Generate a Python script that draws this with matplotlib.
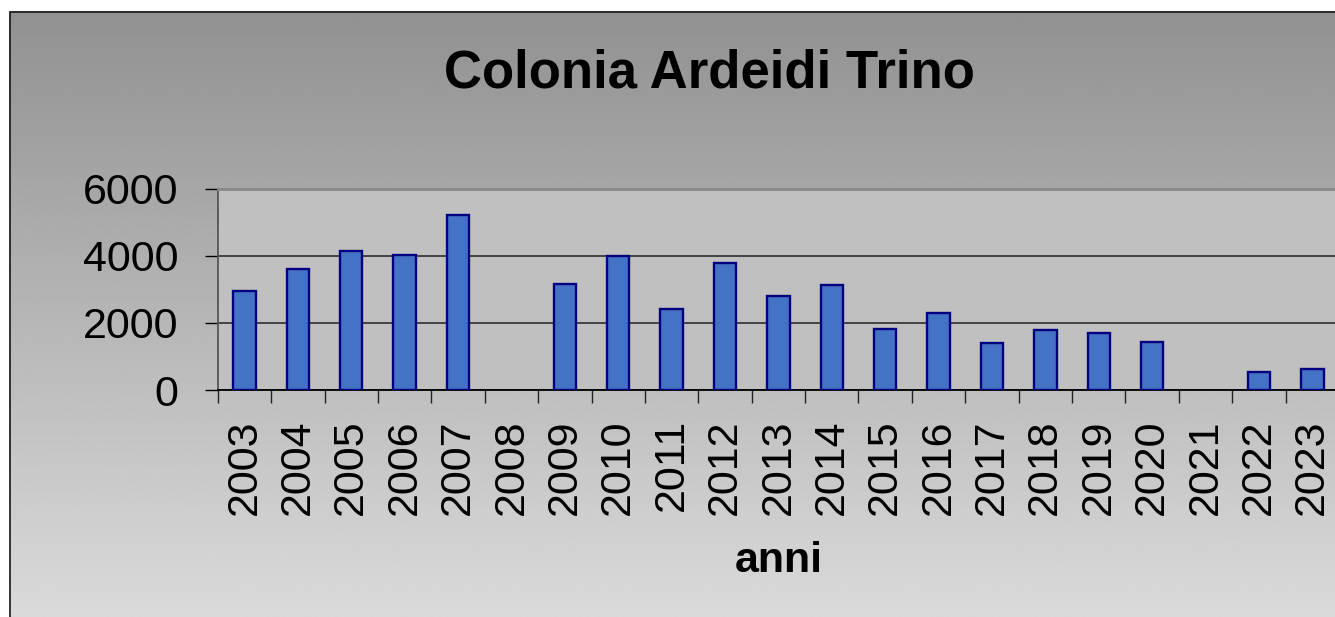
import numpy as np
import matplotlib
matplotlib.use("Agg")
import matplotlib.pyplot as plt
from matplotlib.ticker import FixedLocator

plt.rcParams['font.family'] = ['Liberation Sans', 'DejaVu Sans']

years = ["2003", "2004", "2005", "2006", "2007", "2008", "2009", "2010", "2011", "2012",
         "2013", "2014", "2015", "2016", "2017", "2018", "2019", "2020", "2021", "2022", "2023"]
values = [2950, 3610, 4130, 4030, 5200, 0, 3160, 3990, 2400, 3780,
          2810, 3135, 1805, 2290, 1410, 1775, 1705, 1430, 0, 525, 635]
y_ticks = [0, 2000, 4000, 6000]
title = "Colonia Ardeidi Trino"
xlabel = "anni"

W, H = 1335, 617
fig = plt.figure(figsize=(W / 100, H / 100), dpi=100)
fig.patch.set_facecolor("white")

# background with vertical gradient
bg = fig.add_axes([0, 0, 1, 1], zorder=-5)
bg.set_xlim(0, W)
bg.set_ylim(H, 0)
bg.axis("off")
grad = np.linspace(0, 1, 256)[:, None]
top_c, bot_c = 0.57, 0.855
img = top_c + (bot_c - top_c) * grad
bg.imshow(np.repeat(img, 2, axis=1), cmap="gray", vmin=0, vmax=1,
          extent=[9, W, H, 11], aspect="auto", interpolation="bilinear")
bg.plot([9.5, 9.5, W], [H, 11.5, 11.5], color="#1a1a1a", lw=1.2)

left = 217.8 / W
right = 1339 / W
bottom = (H - 390) / H
top = (H - 188.5) / H
ax = fig.add_axes([left, bottom, right - left, top - bottom])
ax.set_facecolor("#c0c0c0")

x = np.arange(len(years))
vals = np.array(values, dtype=float)
mask = vals > 0
ax.bar(x[mask], vals[mask], width=0.42, color="#4472c4", edgecolor="#000080",
       linewidth=1.7, zorder=3)

ax.set_xlim(-0.5, len(years) - 0.5)
ax.set_ylim(0, 6000)
ax.set_yticks(y_ticks)
ax.set_yticklabels([str(v) for v in y_ticks], fontsize=31)
ax.tick_params(axis="y", direction="out", length=9.4, width=1, color="black", pad=19)

ax.set_xticks(x)
ax.set_xticklabels(years, rotation=90, fontsize=31, va="top", ha="center")
ax.tick_params(axis="x", which="major", length=0, pad=21)
ax.xaxis.set_minor_locator(FixedLocator(np.arange(-0.5, len(years), 1.0)))
ax.tick_params(axis="x", which="minor", direction="out", length=9.4, width=1, color="#222222")

ax.yaxis.grid(True, color="#222222", linewidth=1.1, zorder=1)
ax.set_axisbelow(True)

ax.spines["top"].set_color("#888888")
ax.spines["top"].set_linewidth(2)
ax.spines["right"].set_visible(False)
ax.spines["left"].set_color("#555555")
ax.spines["left"].set_linewidth(1.3)
ax.spines["bottom"].set_color("black")
ax.spines["bottom"].set_linewidth(1.3)

fig.text(709.5 / W, 1 - 73 / H, title, fontsize=38, fontweight="bold", ha="center", va="center")
fig.text(779 / W, 1 - 561 / H, xlabel, fontsize=31, fontweight="bold", ha="center", va="center")

fig.savefig("out.png", dpi=100)
